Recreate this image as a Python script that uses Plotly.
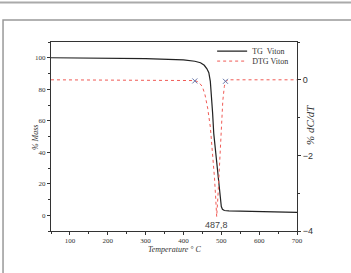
import plotly.graph_objects as go

# Data
tg_temp = [50, 200, 300, 400, 430, 445, 455, 462, 467, 471, 474, 477, 480, 484, 488, 491, 494, 497, 500, 503, 508, 520, 600, 700]
tg_mass = [100, 99.8, 99.5, 98.6, 97.8, 96.8, 95.2, 93, 90.5, 85, 77, 65, 52, 42, 34, 27, 18, 9, 5.5, 3.8, 3.0, 2.8, 2.4, 1.8]

dtg_temp = [50, 430, 440, 450, 457, 464, 471, 477, 482, 485, 487.8, 491, 494, 497, 500, 504, 508, 511, 520, 700]
dtg_val = [0, -0.02, -0.06, -0.18, -0.4, -0.75, -1.25, -1.9, -2.6, -3.1, -3.62, -3.1, -2.5, -1.87, -1.2, -0.55, -0.18, -0.04, 0, 0]

mark_temp = [430, 511]
mark_val = [-0.03, -0.04]

peak_temp = 487.8
peak_label = "487,8"

x_ticks = [100, 200, 300, 400, 500, 600, 700]
y_ticks = [0, 20, 40, 60, 80, 100]
y2_ticks = [0, -2, -4]

serif = "Liberation Serif"
sans = "Liberation Sans"

fig = go.Figure()
fig.add_trace(go.Scatter(x=tg_temp, y=tg_mass, mode="lines", name="TG  Viton", legend="legend",
                         line=dict(color="#222222", width=1.2)))
fig.add_trace(go.Scatter(x=dtg_temp, y=dtg_val, mode="lines", name="DTG Viton", yaxis="y2", legend="legend2",
                         line=dict(color="#f05a55", width=1, dash="dot")))
fig.add_trace(go.Scatter(x=mark_temp, y=mark_val, mode="markers", yaxis="y2", showlegend=False,
                         marker=dict(symbol="x-thin", size=5, line=dict(color="#6677aa", width=1))))

fig.add_annotation(x=peak_temp, y=-3.84, xref="x", yref="y2", text=peak_label, showarrow=False,
                   xanchor="center", yanchor="middle",
                   font=dict(family=sans, size=9, color="#444444"))

# Axis titles
fig.add_annotation(x=-0.065, y=0.497, xref="paper", yref="paper", text="<i>% Mass</i>", textangle=-90,
                   xanchor="center", yanchor="middle",
                   showarrow=False, font=dict(family=serif, size=8, color="#333333"))
fig.add_annotation(x=1.053, y=0.561, xref="paper", yref="paper", text="<i>% dC/dT</i>", textangle=-90,
                   xanchor="center", yanchor="middle",
                   showarrow=False, font=dict(family=serif, size=11, color="#333333"))
fig.add_annotation(x=0.504, y=-0.1, xref="paper", yref="paper", text="<i>Temperature ° C</i>",
                   xanchor="center", yanchor="middle",
                   showarrow=False, font=dict(family=serif, size=8, color="#333333"))

# Frame lines
fig.add_shape(type="line", xref="paper", yref="paper", x0=-0.3, x1=1.3, y0=1.209, y1=1.209,
              line=dict(color="#aaaaaa", width=2))
fig.add_shape(type="rect", xref="paper", yref="paper", x0=-0.195, x1=1.5, y0=-0.5, y1=1.116,
              line=dict(color="#999999", width=1.5))

leg_common = dict(bgcolor="rgba(0,0,0,0)", font=dict(family=serif, size=8, color="#333333"),
                  itemwidth=30, xanchor="left", yanchor="middle")

fig.update_layout(
    width=351, height=273,
    margin=dict(l=51, r=54, t=42, b=42),
    paper_bgcolor="white", plot_bgcolor="white",
    showlegend=True,
    legend=dict(x=0.655, y=0.952, **leg_common),
    legend2=dict(x=0.655, y=0.899, **leg_common),
    xaxis=dict(range=[50, 700], tickvals=x_ticks, ticks="outside", ticklen=3, tickcolor="#333",
               showline=True, linecolor="#333333", linewidth=1, mirror=True, showgrid=False, zeroline=False,
               tickfont=dict(family=serif, size=7, color="#333333"),
               minor=dict(dtick=50, tick0=50, ticks="outside", ticklen=2, tickcolor="#333")),
    yaxis=dict(range=[-10, 110], tickvals=y_ticks, ticks="outside", ticklen=3, tickcolor="#333",
               showline=True, linecolor="#333333", linewidth=1, showgrid=False, zeroline=False,
               tickfont=dict(family=serif, size=7, color="#333333"),
               minor=dict(dtick=10, tick0=0, ticks="outside", ticklen=2, tickcolor="#333")),
    yaxis2=dict(range=[-4, 1], tickvals=y2_ticks, overlaying="y", side="right", ticks="outside",
                ticklen=3, tickcolor="#333", showline=True, linecolor="#333333", linewidth=1,
                showgrid=False, zeroline=False,
                tickfont=dict(family=sans, size=9, color="#333333"),
                minor=dict(dtick=1, tick0=0, ticks="outside", ticklen=2, tickcolor="#333")),
)

fig.write_html("out.html")
